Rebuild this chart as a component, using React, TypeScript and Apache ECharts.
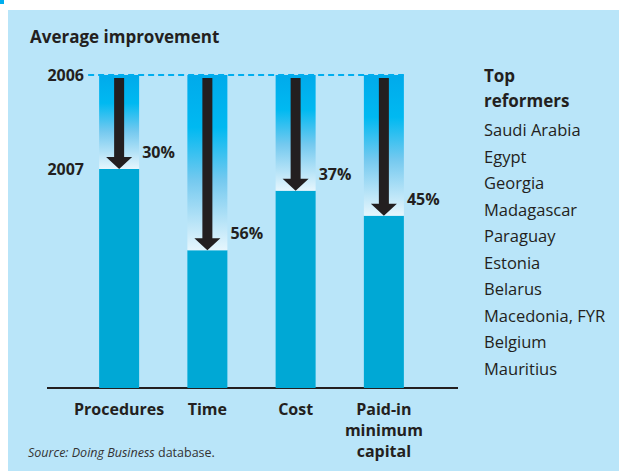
import React, { useEffect, useRef } from "react";
import * as echarts from "echarts";

const categories = ["Procedures", "Time", "Cost", "Paid-in\nminimum\ncapital"];
const improvement = [30, 56, 37, 45]; // % reduction from 2006 to 2007
const base2006 = 100;
const yearLabels: Record<number, string> = { 100: "2006", 70: "2007" };
const reformers = [
  "Saudi Arabia",
  "Egypt",
  "Georgia",
  "Madagascar",
  "Paraguay",
  "Estonia",
  "Belarus",
  "Macedonia, FYR",
  "Belgium",
  "Mauritius",
];

const FONT = "Open Sans";
const INK = "#231f20";

export default function App() {
  const ref = useRef<HTMLDivElement>(null);
  useEffect(() => {
    const chart = echarts.init(ref.current!, null, { renderer: "svg" });
    const after = improvement.map((v) => base2006 - v);
    const option: any = {
      animation: false,
      backgroundColor: "#ffffff",
      grid: { left: 75, right: 191, top: 75, bottom: 83, containLabel: false },
      xAxis: {
        type: "category",
        data: categories,
        axisLine: { show: false },
        axisTick: { show: false },
        axisLabel: {
          interval: 0,
          hideOverlap: false,
          margin: 10,
          color: INK,
          fontFamily: FONT,
          fontWeight: "bold",
          fontSize: 16,
          lineHeight: 21,
          verticalAlign: "top",
        },
      },
      yAxis: {
        type: "value",
        min: 0,
        max: 100,
        interval: 10,
        offset: -12,
        axisLine: { show: false },
        axisTick: { show: false },
        splitLine: { show: false },
        axisLabel: {
          margin: 3,
          color: INK,
          fontFamily: FONT,
          fontWeight: "bold",
          fontSize: 16,
          formatter: (v: number) => yearLabels[v] || "",
        },
      },
      graphic: [
        {
          type: "rect",
          z: -10,
          shape: { x: 8, y: 10, width: 620, height: 470 },
          style: { fill: "#b9e5f9" },
        },
        {
          type: "rect",
          z: -10,
          shape: { x: 0, y: 0, width: 4, height: 4 },
          style: { fill: "#00aeef" },
        },
        {
          type: "text",
          left: 30,
          top: 28,
          style: {
            text: "Average improvement",
            fill: INK,
            font: `bold 17px "${FONT}"`,
          },
        },
        {
          type: "line",
          shape: { x1: 47, y1: 388, x2: 458, y2: 388 },
          style: { stroke: INK, lineWidth: 2 },
        },
        {
          type: "text",
          left: 484,
          top: 63,
          style: {
            text: "Top\nreformers",
            fill: INK,
            font: `bold 17px "${FONT}"`,
            lineHeight: 25,
          },
        },
        ...reformers.map((r, i) => ({
          type: "text",
          left: 484,
          top: 121 + i * 26.5,
          style: { text: r, fill: INK, font: `16.5px "${FONT}"` },
        })),
        {
          type: "text",
          left: 28,
          top: 446,
          style: {
            text: "{i|Source: Doing Business} {n|database.}",
            rich: {
              i: { fontStyle: "italic", fontFamily: FONT, fontSize: 12.5, fill: "#333" },
              n: { fontFamily: FONT, fontSize: 12.5, fill: "#333" },
            },
          },
        },
      ],
      series: [
        {
          name: "2007",
          type: "bar",
          stack: "a",
          barWidth: 40,
          data: after,
          itemStyle: { color: "#00a8d5" },
        },
        {
          name: "Reduction",
          type: "bar",
          stack: "a",
          barWidth: 40,
          data: improvement,
          itemStyle: {
            color: new echarts.graphic.LinearGradient(0, 0, 0, 1, [
              { offset: 0, color: "#00aaeb" },
              { offset: 0.3, color: "#00b9f1" },
              { offset: 0.6, color: "#74c9ef" },
              { offset: 1, color: "#e6f6fd" },
            ]),
          },
        },
        {
          name: "arrows",
          type: "custom",
          z: 10,
          data: improvement.map((v, i) => [i, v]),
          renderItem: (params: any, api: any) => {
            const i = api.value(0);
            const v = api.value(1);
            const top = api.coord([i, base2006]);
            const end = api.coord([i, base2006 - v]);
            const cx = top[0];
            const y0 = top[1] + 3;
            const yTip = end[1];
            const yh = yTip - 12;
            const children: any[] = [
              {
                type: "polygon",
                shape: {
                  points: [
                    [cx - 5, y0],
                    [cx + 5, y0],
                    [cx + 5, yh],
                    [cx + 13, yh],
                    [cx, yTip],
                    [cx - 13, yh],
                    [cx - 5, yh],
                  ],
                },
                style: { fill: INK },
              },
              {
                type: "text",
                x: cx + 23,
                y: yTip - 17,
                style: {
                  text: v + "%",
                  fill: INK,
                  font: `bold 16px "${FONT}"`,
                  verticalAlign: "middle",
                  align: "left",
                },
              },
            ];
            if (params.dataIndex === 0) {
              const last = api.coord([improvement.length - 1, base2006]);
              children.push({
                type: "line",
                shape: { x1: cx - 31, y1: top[1], x2: last[0] + 20, y2: top[1] },
                style: { stroke: "#00aeef", lineWidth: 2, lineDash: [6, 4] },
              });
            }
            return { type: "group", children };
          },
        },
      ],
    };
    chart.setOption(option);
    return () => chart.dispose();
  }, []);
  return (
    <div
      ref={ref}
      style={{ position: "fixed", left: 0, top: 0, width: 619, height: 471 }}
    />
  );
}
